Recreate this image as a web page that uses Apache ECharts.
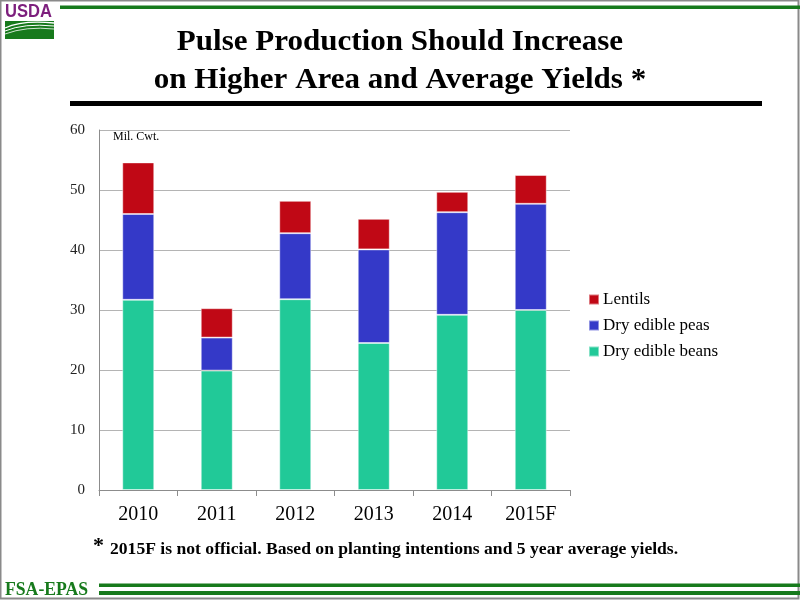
<!DOCTYPE html>
<html>
<head>
<meta charset="utf-8">
<script src="https://cdn.jsdelivr.net/npm/echarts@6/dist/echarts.min.js"></script>
<style>
  html, body { margin: 0; padding: 0; background: #fff; }
  #chart { width: 800px; height: 600px; }
</style>
</head>
<body>
<div id="chart"></div>
<script>
// values, million cwt
const years = ['2010', '2011', '2012', '2013', '2014', '2015F'];
const beans = [31.7, 19.9, 31.8, 24.5, 29.2, 30.0];
const peas = [14.3, 5.5, 11.0, 15.6, 17.1, 17.7];
const lentils = [8.6, 4.9, 5.4, 5.1, 3.4, 4.8];
const yTicks = [0, 10, 20, 30, 40, 50, 60];

const serif = '"Liberation Serif", "Times New Roman", serif';
const green = '#177a1c';

const chart = echarts.init(document.getElementById('chart'));

const bar = (name, data, color) => ({
  name,
  type: 'bar',
  stack: 'total',
  data,
  barWidth: 32,
  itemStyle: { color, borderColor: 'rgba(255,255,255,0.45)', borderWidth: 1 },
});

// bold heading text, stretched a little to the slide's width
const heading = (text, x, y, size, sx) => ({
  type: 'text',
  x,
  y,
  scaleX: sx,
  style: {
    text,
    fill: '#000',
    font: `bold ${size}px ${serif}`,
    textAlign: 'center',
    textVerticalAlign: 'middle',
  },
});

chart.setOption({
  animation: false,
  grid: { left: 99, right: 230, top: 130, bottom: 110 },
  legend: {
    orient: 'vertical',
    left: 583,
    top: 286,
    itemWidth: 10,
    itemHeight: 10,
    itemGap: 9,
    icon: 'rect',
    data: ['Lentils', 'Dry edible peas', 'Dry edible beans'],
    textStyle: { fontFamily: serif, fontSize: 17, color: '#000', padding: [0, 0, 0, -1] },
  },
  xAxis: {
    type: 'category',
    data: years,
    axisLine: { lineStyle: { color: '#8c8c8c', width: 1 } },
    axisTick: { show: true, alignWithLabel: false, length: 6, lineStyle: { color: '#8c8c8c' } },
    axisLabel: { fontFamily: serif, fontSize: 20, color: '#000', margin: 15 },
  },
  yAxis: {
    type: 'value',
    min: yTicks[0],
    max: yTicks[yTicks.length - 1],
    interval: 10,
    axisLine: { show: true, lineStyle: { color: '#8c8c8c' } },
    axisTick: { show: false },
    axisLabel: { fontFamily: serif, fontSize: 15, color: '#222', margin: 14 },
    splitLine: { lineStyle: { color: '#b4b4b4', width: 1 } },
  },
  series: [
    bar('Dry edible beans', beans, '#21c998'),
    bar('Dry edible peas', peas, '#3439c8'),
    bar('Lentils', lentils, '#c00815'),
  ],
  graphic: [
    // slide frame
    { type: 'rect', shape: { x: 0.5, y: 0.5, width: 798, height: 598 }, style: { fill: 'none', stroke: '#8a8a8a', lineWidth: 2 } },
    // USDA mark
    { type: 'text', x: 5, y: 12, scaleX: 0.92, style: { text: 'USDA', fill: '#7d1f7d', font: `bold 18px "Liberation Sans", sans-serif`, textVerticalAlign: 'middle' } },
    { type: 'rect', shape: { x: 5, y: 21, width: 49, height: 18 }, style: { fill: green } },
    { type: 'bezierCurve', shape: { x1: 5, y1: 28, cpx1: 22, cpy1: 20, x2: 54, y2: 23 }, style: { fill: 'none', stroke: '#fff', lineWidth: 1.3 } },
    { type: 'bezierCurve', shape: { x1: 5, y1: 31, cpx1: 24, cpy1: 23, x2: 54, y2: 26 }, style: { fill: 'none', stroke: '#fff', lineWidth: 1 } },
    { type: 'bezierCurve', shape: { x1: 5, y1: 34, cpx1: 26, cpy1: 26, x2: 54, y2: 29 }, style: { fill: 'none', stroke: '#fff', lineWidth: 0.8 } },
    // top rule
    { type: 'rect', shape: { x: 60, y: 5.5, width: 740, height: 3.5 }, style: { fill: green } },
    // title
    heading('Pulse Production Should Increase', 400, 43, 29, 1.07),
    heading('on Higher Area and Average Yields *', 400, 81, 29, 1.07),
    { type: 'rect', shape: { x: 70, y: 101, width: 692, height: 5 }, style: { fill: '#000' } },
    // unit label
    { type: 'text', x: 113, y: 137, style: { text: 'Mil. Cwt.', fill: '#000', font: `12px ${serif}`, textVerticalAlign: 'middle' } },
    // footnote
    { type: 'text', x: 93, y: 546, style: { text: '*', fill: '#000', font: `bold 22px ${serif}`, textVerticalAlign: 'middle' } },
    {
      type: 'text', x: 110, y: 550, scaleX: 1.1,
      style: { text: '2015F is not official. Based on planting intentions and 5 year average yields.', fill: '#000', font: `bold 16px ${serif}`, textVerticalAlign: 'middle' },
    },
    // footer
    {
      type: 'text', x: 5, y: 590, scaleX: 0.93,
      style: { text: 'FSA-EPAS', fill: green, font: `bold 19px ${serif}`, textVerticalAlign: 'middle' },
    },
    { type: 'rect', shape: { x: 99, y: 583.5, width: 701, height: 3.5 }, style: { fill: green } },
    { type: 'rect', shape: { x: 99, y: 591, width: 701, height: 4 }, style: { fill: green } },
  ],
});
</script>
</body>
</html>
